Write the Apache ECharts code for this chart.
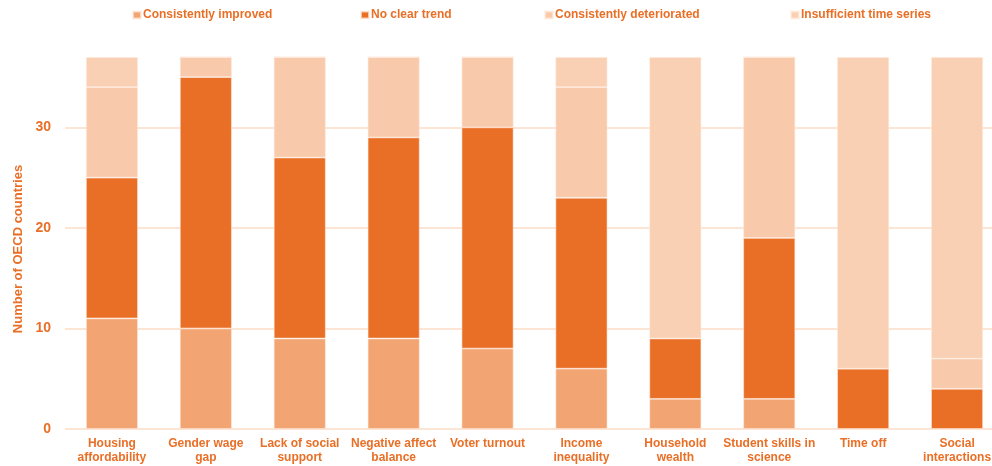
<!DOCTYPE html>
<html>
<head>
<meta charset="utf-8">
<script src="https://cdn.jsdelivr.net/npm/echarts@6/dist/echarts.min.js"></script>
<style>html,body{margin:0;padding:0;background:#fff;}#c{width:992px;height:466px;}</style>
</head>
<body>
<div id="c"></div>
<script>
const categories = ['Housing\naffordability','Gender wage\ngap','Lack of social\nsupport','Negative affect\nbalance','Voter turnout','Income\ninequality','Household\nwealth','Student skills in\nscience','Time off','Social\ninteractions'];
const seriesNames = ['Consistently improved','No clear trend','Consistently deteriorated','Insufficient time series'];
const improved     = [11, 10, 9, 9, 8, 6, 3, 3, 0, 0];
const noClearTrend = [14, 25, 18, 20, 22, 17, 6, 16, 6, 4];
const deteriorated = [9, 2, 10, 8, 7, 11, 0, 18, 0, 3];
const insufficient = [3, 0, 0, 0, 0, 3, 28, 0, 31, 30];
const yTicks = [0, 10, 20, 30];
const yMax = 37;

const orange = '#e96f27';
const colors = ['#f2a572', '#e96f27', '#f8caab', '#f9d0b3'];
const font = '"Liberation Sans", Arial, sans-serif';
const values = [improved, noClearTrend, deteriorated, insufficient];
const legendLeft = [132, 360, 544, 790];

const chart = echarts.init(document.getElementById('c'), null, {renderer: 'canvas'});
chart.setOption({
  animation: false,
  backgroundColor: '#fff',
  legend: seriesNames.map((n, i) => ({
    data: [n], left: legendLeft[i], top: 9, padding: 0,
    itemWidth: 8, itemHeight: 7, itemGap: 0,
    icon: 'rect',
    textStyle: {color: orange, fontFamily: font, fontWeight: 'bold', fontSize: 12, padding: [2,0,0,-3]}
  })),
  grid: {left: 65, top: 57, bottom: 37, width: 939, outerBoundsMode: 'none', containLabel: false},
  xAxis: {
    type: 'category', data: categories,
    axisLine: {show: false}, axisTick: {show: false},
    axisLabel: {color: orange, fontFamily: font, fontWeight: 'bold', fontSize: 12, lineHeight: 14, margin: 8, interval: 0}
  },
  yAxis: {
    type: 'value', min: 0, max: yMax, interval: 10,
    name: 'Number of OECD countries', nameLocation: 'middle', nameGap: 37,
    nameTextStyle: {color: orange, fontFamily: font, fontWeight: 'bold', fontSize: 13, padding: [0,12,0,0]},
    axisLine: {show: false}, axisTick: {show: false},
    axisLabel: {color: orange, fontFamily: font, fontWeight: 'bold', fontSize: 14, margin: 14,
      formatter: v => yTicks.includes(v) ? String(v) : ''},
    splitLine: {show: true, lineStyle: {width: 1.5, color: ['#fcdcc7','#fcdcc7','#fcdcc7','#fcdcc7','rgba(0,0,0,0)']}}
  },
  series: seriesNames.map((n, i) => ({
    name: n, type: 'bar', stack: 'total', barWidth: 52,
    itemStyle: {color: colors[i], borderColor: 'rgba(255,236,222,0.7)', borderWidth: 0.8},
    emphasis: {disabled: true},
    data: values[i]
  }))
});
</script>
</body>
</html>
